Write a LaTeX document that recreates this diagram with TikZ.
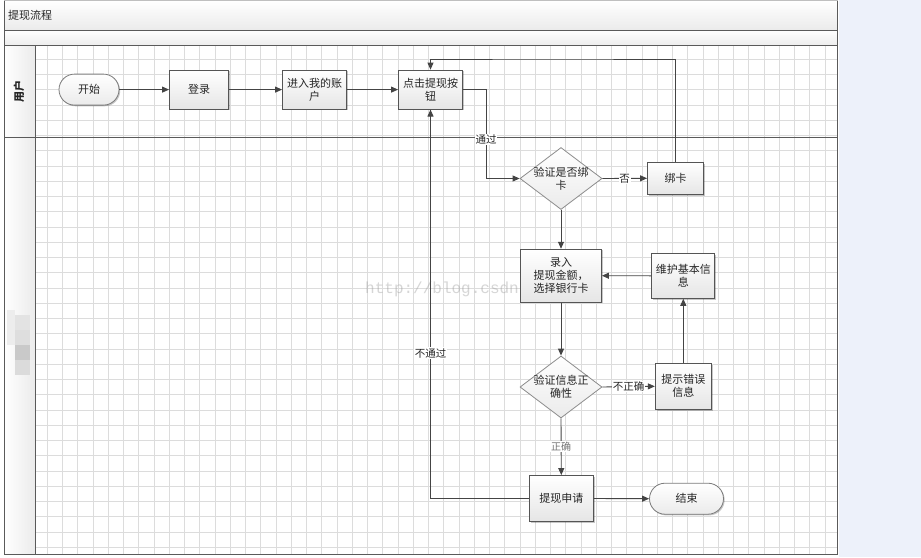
\documentclass[tikz,border=0pt]{standalone}
\usepackage{fontspec}
\setmainfont{Noto Sans CJK SC}
\newfontfamily\wmfont{Liberation Mono}
\usetikzlibrary{arrows.meta,shapes.geometric,shapes.misc,shadows}
\definecolor{gridc}{HTML}{DCDCDC}
\definecolor{linec}{HTML}{444444}
\definecolor{boxc}{HTML}{555555}
\definecolor{diac}{HTML}{8C8C8C}
\definecolor{termc}{HTML}{7A7A7A}
\definecolor{bgblue}{HTML}{EDF1FA}
\definecolor{framec}{HTML}{5A5A5A}
\newcommand\nodefs{\fontsize{11}{13}\selectfont}
\newcommand\lblfs{\fontsize{10.5}{12}\selectfont}
\tikzset{
  gridline/.style={draw=gridc, line width=0.8pt},
  shad/.style={drop shadow={shadow xshift=1.2pt, shadow yshift=-1.2pt, opacity=0.22, fill=black}},
  procbox/.style={shape=rectangle, draw=boxc, line width=0.9pt, top color=white, bottom color=black!10,
    inner sep=1pt, align=center, font=\nodefs, text=black!85, shad},
  termbox/.style={shape=rounded rectangle, draw=termc, line width=0.8pt, top color=white, bottom color=black!8,
    inner sep=1pt, align=center, font=\nodefs, text=black!85, shad},
  diabox/.style={shape=diamond, draw=diac, line width=0.8pt, top color=white, bottom color=black!8,
    inner sep=0pt, minimum width=82pt, minimum height=62pt},
  diatext/.style={align=center, font=\nodefs, text=black!85, inner sep=0pt},
  arr/.style={draw=linec, line width=0.9pt, -{Triangle[length=7pt,width=6pt]}},
  elabel/.style={fill=white, inner sep=0.8pt, font=\lblfs, text=black!85},
}
\begin{document}
\begin{tikzpicture}[x=1pt,y=-1pt]
\useasboundingbox (0,0) rectangle (921,557);
% backgrounds
\fill[white] (0,0) rectangle (839,557);
\fill[bgblue] (839.3,0) rectangle (921,557);
% title band and second band
\shade[top color=white, bottom color=black!8] (4,0.5) rectangle (837.7,30.3);
\shade[top color=white, bottom color=black!7] (4,30.3) rectangle (837.7,45.3);
\node[anchor=west, font=\nodefs, text=black!85, inner sep=0pt] (title) at (8,15) {提现流程};
% grid
\foreach \k in {1,...,52} \draw[gridline] ({32+15.25*\k},45.3) -- ({32+15.25*\k},554.3);
\foreach \k in {1,...,33} \draw[gridline] (35.3,{44+15.25*\k}) -- (837.7,{44+15.25*\k});
% lane header column
\shade[left color=white, right color=black!8] (4,45.3) rectangle (35.3,554.3);
\node[rotate=90, font=\nodefs\bfseries, text=black!85, inner sep=0pt] (lane1) at (19,91) {用户};
% censored label of lane 2
\fill[black!7] (7,310) rectangle (15,345);
\fill[black!11] (15,315) rectangle (30,330);
\fill[black!13] (15,330) rectangle (30,345);
\fill[black!21] (15,345) rectangle (30,360);
\fill[black!14] (15,360) rectangle (30,375);
% frame lines
\draw[framec, line width=1pt] (4,30.3) -- (837.7,30.3);
\draw[framec, line width=1pt] (4,45.3) -- (837.7,45.3);
\draw[framec, line width=1pt] (35.3,45.3) -- (35.3,554.3);
\draw[framec, line width=0.9pt] (4,137.3) -- (837.7,137.3);
\draw[black!25, line width=0.8pt] (4,0.5) -- (837.7,0.5);
\draw[framec, line width=1pt] (4,0.5) -- (4,554.3) -- (837.7,554.3) -- (837.7,0.5);

% watermark (under the boxes)
\node[anchor=west, inner sep=0pt, font=\wmfont\fontsize{16}{18}\selectfont, text=black!40, opacity=0.4] (wm) at (365,289) {http://blog.csdn.net/};

% nodes
\node[termbox, minimum width=62pt, minimum height=31pt] (start) at (89,89.6) {开始};
\node[procbox, minimum width=59pt, minimum height=39pt] (login) at (199,89.6) {登录};
\node[procbox, minimum width=64pt, minimum height=39pt] (account) at (314.5,89.6) {进入我的账\\户};
\node[procbox, minimum width=64pt, minimum height=39pt] (click) at (430.5,89.6) {点击提现按\\钮};
\node[diabox] (d1) at (561,178.5) {};
\node[diatext] (d1t) at (d1.center) {验证是否绑\\卡};
\node[procbox, minimum width=56pt, minimum height=32pt] (bind) at (675.5,178.3) {绑卡};
\node[procbox, minimum width=81pt, minimum height=53pt] (input) at (561,275.7) {录入\\提现金额，\\选择银行卡};
\node[procbox, minimum width=63pt, minimum height=45pt] (maintain) at (683.3,275.8) {维护基本信\\息};
\node[diabox] (d2) at (561,387) {};
\node[diatext] (d2t) at (d2.center) {验证信息正\\确性};
\node[procbox, minimum width=56pt, minimum height=46pt] (error) at (683.3,386.3) {提示错误\\信息};
\node[procbox, minimum width=64pt, minimum height=46pt] (apply) at (561.3,498.5) {提现申请};
\node[termbox, minimum width=76pt, minimum height=31pt] (end) at (686.5,498.7) {结束};

\coordinate (c1) at (486,178.5);
\coordinate (tp) at (553,59);

% connectors
\draw[arr] (start.east) -- (login.west);
\draw[arr] (login.east) -- (account.west);
\draw[arr] (account.east) -- (click.west);
\draw[arr] (click.east) -| (c1) node[elabel, pos=0.78] {通过} -- (d1.west);
\draw[arr] (d1.east) -- node[elabel] {否} (bind.west);
\draw[arr] (bind.north) |- (tp) -| (click.north);
\draw[arr] (d1.south) -- (input.north);
\draw[arr] (maintain.west) -- (input.east);
\draw[arr] (input.south) -- (d2.north);
\draw[arr] (d2.east) -- node[elabel] {不正确} (error.west);
\draw[arr] (error.north) -- (maintain.south);
\draw[arr] (d2.south) -- node[elabel, text=black!55, font=\fontsize{10}{12}\selectfont] {正确} (apply.north);
\draw[arr] (apply.east) -- (end.west);
\draw[arr] (apply.west) -| (click.south) node[elabel, pos=0.687] {不通过};
\end{tikzpicture}
\end{document}
